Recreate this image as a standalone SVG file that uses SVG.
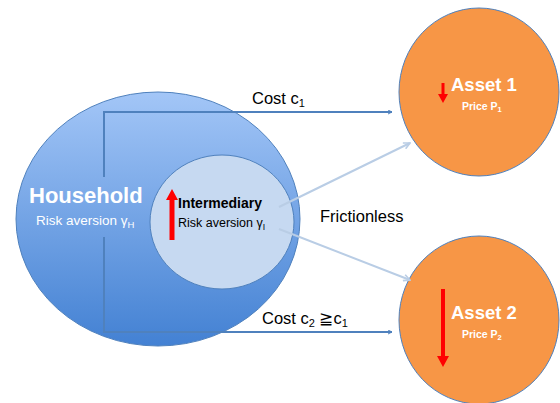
<svg xmlns="http://www.w3.org/2000/svg" width="560" height="403" viewBox="0 0 560 403">
<defs>
<linearGradient id="hh" x1="0" y1="0" x2="0" y2="1">
<stop offset="0" stop-color="#A3C6F7"/>
<stop offset="1" stop-color="#4381D3"/>
</linearGradient>
<marker id="ab" viewBox="0 0 10 10" refX="9" refY="5" markerWidth="5" markerHeight="5" orient="auto" markerUnits="userSpaceOnUse">
<path d="M1,1 L9,5 L1,9" fill="none" stroke="#4F81BD" stroke-width="2"/>
</marker>
<marker id="al" viewBox="0 0 10 10" refX="9" refY="5" markerWidth="8" markerHeight="8" orient="auto" markerUnits="userSpaceOnUse">
<path d="M1,1 L9,5 L1,9" fill="none" stroke="#B9CDE5" stroke-width="2"/>
</marker>
</defs>
<style>
text{font-family:"Liberation Sans",Arial,sans-serif}
.w{fill:#fff}
.b{font-weight:bold}
.k{fill:#000}
.red{fill:#FF0000}
</style>
<rect width="560" height="403" fill="#fff"/>
<g id="household">
<ellipse cx="158" cy="219" rx="142" ry="127" fill="url(#hh)" stroke="#4F81BD" stroke-width="1"/>
<text class="w b" x="29" y="203" font-size="22">Household</text>
<text class="w" x="36" y="225" font-size="13.5">Risk aversion γ<tspan font-size="9.5" dy="3">H</tspan></text>
</g>
<g id="intermediary">
<ellipse cx="222" cy="222" rx="72" ry="67" fill="#C6D9F1" stroke="#4F81BD" stroke-width="1"/>
<path class="red" d="M169.5,240 L169.5,200 L166,200 L172,189 L178,200 L174.5,200 L174.5,240 Z"/>
<text class="k b" x="178" y="208" font-size="14">Intermediary</text>
<text class="k" x="178" y="227" font-size="12.5">Risk aversion γ<tspan font-size="8.5" dy="3">I</tspan></text>
</g>
<g id="asset1">
<ellipse cx="479" cy="92" rx="80" ry="84" fill="#F79646" stroke="#4F81BD" stroke-width="1"/>
<path class="red" d="M441.5,83 L441.5,94 L438,94 L443,103 L448,94 L444.5,94 L444.5,83 Z"/>
<text class="w b" x="451" y="91" font-size="18.5">Asset 1</text>
<text class="w b" x="462" y="110" font-size="10.5">Price P<tspan font-size="7.5" dy="2">1</tspan></text>
</g>
<g id="asset2">
<ellipse cx="479" cy="320" rx="80" ry="84" fill="#F79646" stroke="#4F81BD" stroke-width="1"/>
<path class="red" d="M441,289 L441,356 L437,356 L443,367 L449,356 L445,356 L445,289 Z"/>
<text class="w b" x="451" y="319" font-size="18.5">Asset 2</text>
<text class="w b" x="462" y="338" font-size="10.5">Price P<tspan font-size="7.5" dy="2">2</tspan></text>
</g>
<g id="connectors" fill="none">
<path d="M104,177 L104,112 L392,112" stroke="#4F81BD" stroke-width="2" marker-end="url(#ab)"/>
<path d="M104,237 L104,332 L392,332" stroke="#4F81BD" stroke-width="2" marker-end="url(#ab)"/>
<path d="M279,207 L410,143" stroke="#B9CDE5" stroke-width="2" marker-end="url(#al)"/>
<path d="M279,229 L410,280" stroke="#B9CDE5" stroke-width="2" marker-end="url(#al)"/>
</g>
<g id="labels">
<text class="k" x="252" y="104" font-size="16.5">Cost c<tspan font-size="11" dy="3">1</tspan></text>
<text class="k" x="262" y="324" font-size="16.5">Cost c<tspan font-size="11" dy="3">2</tspan><tspan dy="-3"> ≧c</tspan><tspan font-size="11" dy="3">1</tspan></text>
<text class="k" x="320" y="222" font-size="16.5">Frictionless</text>
</g>
</svg>
